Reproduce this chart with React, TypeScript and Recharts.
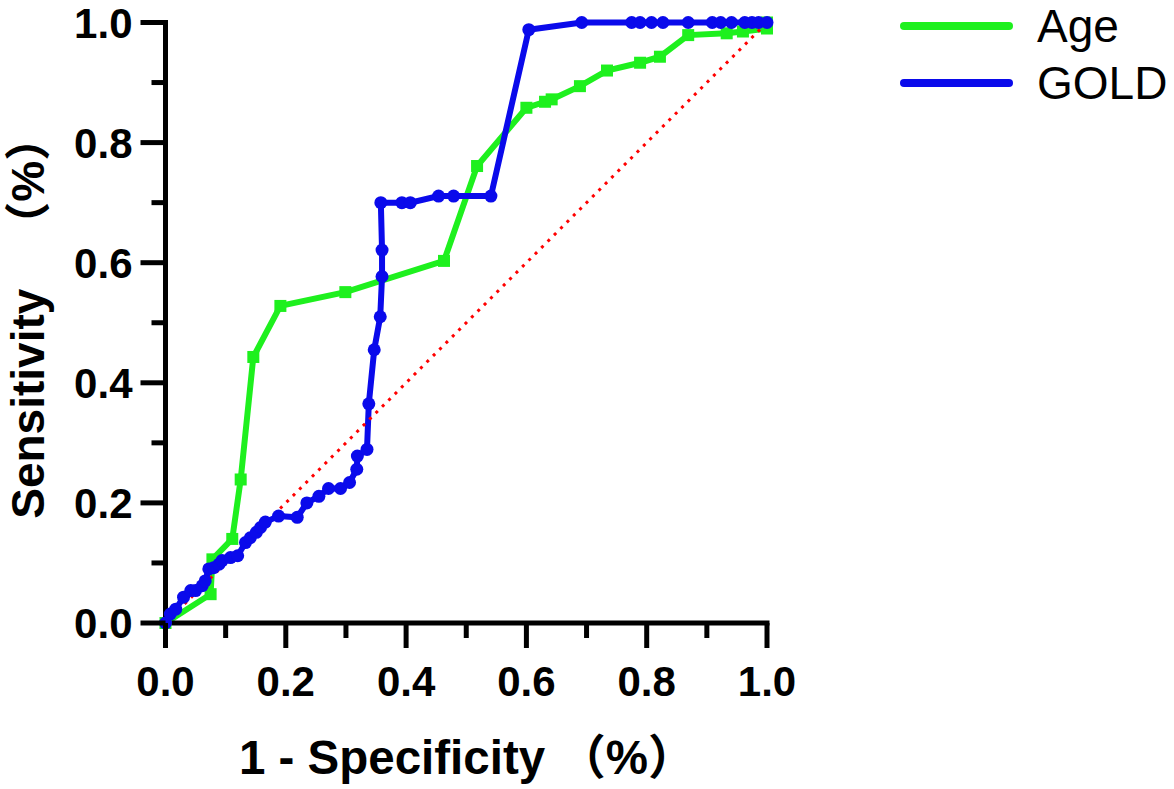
import { LineChart, Line, XAxis, YAxis, Legend, Label } from 'recharts'

// ROC curve values
const ageFpr = [0, 0.075, 0.078, 0.111, 0.125, 0.146, 0.191, 0.299, 0.463, 0.518, 0.6, 0.631, 0.642, 0.689, 0.734, 0.789, 0.822, 0.869, 0.933, 0.96, 1.0, 1.0]
const ageTpr = [0, 0.048, 0.106, 0.14, 0.239, 0.443, 0.528, 0.551, 0.603, 0.761, 0.858, 0.868, 0.872, 0.894, 0.92, 0.933, 0.943, 0.979, 0.982, 0.985, 0.99, 1.0]

const goldFpr = [
  0, 0.008, 0.017, 0.03, 0.042, 0.05, 0.061, 0.066, 0.072, 0.08, 0.089, 0.094, 0.108, 0.12,
  0.133, 0.141, 0.151, 0.158, 0.166, 0.188, 0.219, 0.235, 0.255, 0.271, 0.291, 0.306, 0.318,
  0.319, 0.335, 0.338, 0.347, 0.357, 0.36, 0.36, 0.358, 0.393, 0.407, 0.454, 0.479, 0.541,
  0.604, 0.692, 0.775, 0.789, 0.808, 0.827, 0.869, 0.909, 0.923, 0.941, 0.963, 0.975, 0.986, 1.0,
]
const goldTpr = [
  0, 0.015, 0.023, 0.043, 0.054, 0.054, 0.062, 0.07, 0.09, 0.092, 0.098, 0.104, 0.109, 0.112,
  0.134, 0.142, 0.151, 0.159, 0.168, 0.178, 0.176, 0.2, 0.211, 0.224, 0.224, 0.234, 0.256,
  0.278, 0.289, 0.365, 0.455, 0.51, 0.577, 0.621, 0.7, 0.7, 0.7, 0.711, 0.711, 0.711,
  0.988, 1, 1, 1, 1, 1, 1, 1, 1, 1, 1, 1, 1, 1,
]

// chance diagonal
const refFpr = [0, 1]
const refTpr = [0, 1]

const ticks = [0, 0.1, 0.2, 0.3, 0.4, 0.5, 0.6, 0.7, 0.8, 0.9, 1.0]

const GREEN = '#1EF01E'
const BLUE = '#0A0AEB'
const RED = '#FF0000'
const FONT = "'Liberation Sans', Arial, 'Noto Sans CJK SC', sans-serif"

const toPoints = (xs: number[], ys: number[]) => xs.map((x, i) => ({ x, y: ys[i] }))

const ageData = toPoints(ageFpr, ageTpr)
const goldData = toPoints(goldFpr, goldTpr)
const refData = toPoints(refFpr, refTpr)

const isMajor = (v: number) => Math.round(v * 10) % 2 === 0

const XTick = (props: any) => {
  const { x, y, payload } = props
  const v = payload.value
  const major = isMajor(v)
  return (
    <g>
      <line x1={x} x2={x} y1={y} y2={y + (major ? 25 : 15)} stroke="#000" strokeWidth={5} />
      {major && (
        <text x={x} y={y + 73} textAnchor="middle" fontSize={42} fontWeight="bold" fontFamily={FONT} fill="#000">
          {v.toFixed(1)}
        </text>
      )}
    </g>
  )
}

const YTick = (props: any) => {
  const { x, y, payload } = props
  const v = payload.value
  const major = isMajor(v)
  return (
    <g>
      <line x1={x - (major ? 25 : 14)} x2={x} y1={y} y2={y} stroke="#000" strokeWidth={5} />
      {major && (
        <text x={x - 33} y={y + 15} textAnchor="end" fontSize={42} fontWeight="bold" fontFamily={FONT} fill="#000">
          {v.toFixed(1)}
        </text>
      )}
    </g>
  )
}

const squareDot = (p: any) => (
  <rect key={`sq-${p.index}`} x={p.cx - 6} y={p.cy - 6} width={12} height={12} fill={GREEN} />
)

const LegendBox = (p: any) => (
  <svg width={280} height={130} style={{ overflow: 'visible', display: 'block' }}>
    {(p.payload || [])
      .filter((e: any) => e.type !== 'none' && e.value !== 'ref')
      .map((e: any, i: number) => (
        <g key={e.value}>
          <line x1={24} x2={129} y1={26 + i * 57} y2={26 + i * 57} stroke={e.color} strokeWidth={8} strokeLinecap="round" />
          <text x={157} y={26 + i * 57 + 16} fontSize={46} fontFamily={FONT} fill="#000">
            {e.value}
          </text>
        </g>
      ))}
  </svg>
)

export default function App() {
  return (
    <div style={{ position: 'absolute', left: 0, top: 0, background: '#fff' }}>
      <LineChart width={1174} height={789} margin={{ top: 22.5, right: 407, bottom: 46, left: 45.5 }}>
        <XAxis
          dataKey="x"
          type="number"
          domain={[0, 1]}
          ticks={ticks}
          interval={0}
          height={120}
          tickSize={0}
          tickMargin={0}
          tick={XTick}
          axisLine={{ stroke: '#000', strokeWidth: 5, strokeLinecap: 'square' }}
        >
          <Label
            content={(p: any) => {
              const vb = p.viewBox
              return (
                <text x={vb.x + vb.width / 2 + 1} y={vb.y + 151} textAnchor="middle" fontSize={47.5} fontWeight="bold" fontFamily={FONT} fill="#000">
                  1 - Specificity （%）
                </text>
              )
            }}
          />
        </XAxis>
        <YAxis
          type="number"
          domain={[0, 1]}
          ticks={ticks}
          interval={0}
          width={120}
          tickSize={0}
          tickMargin={0}
          tick={YTick}
          axisLine={{ stroke: '#000', strokeWidth: 5, strokeLinecap: 'square' }}
        >
          <Label
            content={(p: any) => {
              const vb = p.viewBox
              const cx = vb.x + vb.width - 121.5
              const cy = vb.y + vb.height / 2 - 6
              return (
                <text x={cx} y={cy} transform={`rotate(-90, ${cx}, ${cy})`} textAnchor="middle" fontSize={46} fontWeight="bold" fontFamily={FONT} fill="#000">
                  Sensitivity　<tspan dx={18}>（%）</tspan>
                </text>
              )
            }}
          />
        </YAxis>
        <Legend
          layout="horizontal"
          verticalAlign="middle"
          align="center"
          wrapperStyle={{ left: 880, top: 0, width: 280, height: 130 }}
          content={LegendBox}
        />
        <Line
          data={ageData}
          dataKey="y"
          name="Age"
          type="linear"
          stroke={GREEN}
          strokeWidth={6}
          dot={squareDot}
          activeDot={false}
          isAnimationActive={false}
        />
        <Line
          data={goldData}
          dataKey="y"
          name="GOLD"
          type="linear"
          stroke={BLUE}
          strokeWidth={6}
          dot={{ r: 6.5, fill: BLUE, stroke: 'none', strokeWidth: 0 }}
          activeDot={false}
          isAnimationActive={false}
        />
        <Line
          data={refData}
          dataKey="y"
          name="ref"
          type="linear"
          stroke={RED}
          strokeWidth={3}
          strokeDasharray="3 6"
          dot={false}
          activeDot={false}
          legendType="none"
          isAnimationActive={false}
        />
      </LineChart>
    </div>
  )
}
